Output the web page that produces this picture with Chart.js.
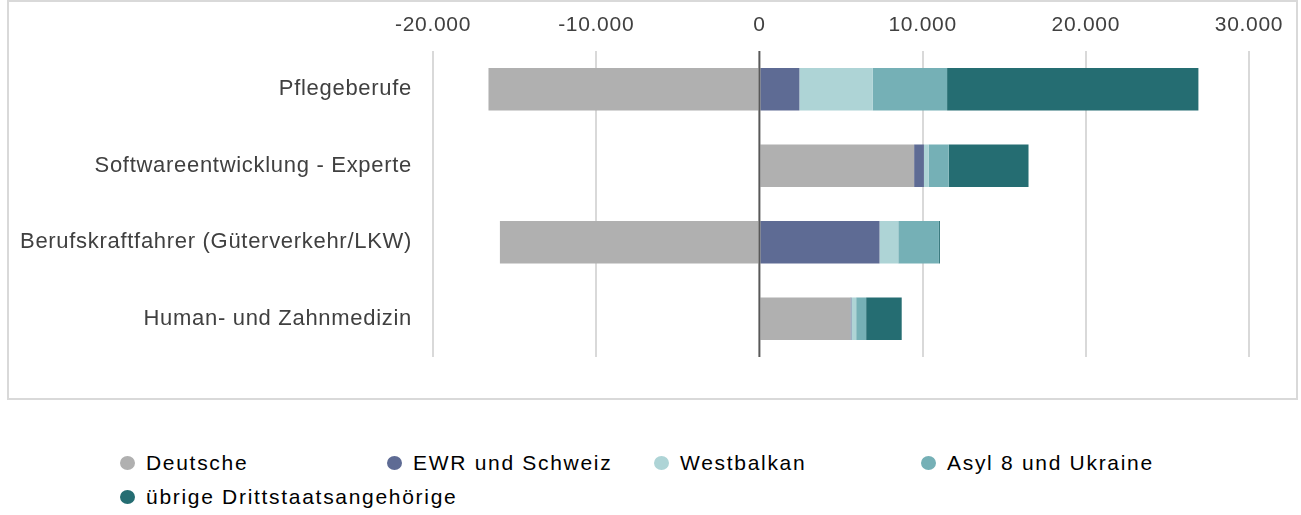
<!DOCTYPE html>
<html>
<head>
<meta charset="utf-8">
<script src="https://cdn.jsdelivr.net/npm/chart.js@4/dist/chart.umd.min.js"></script>
<style>
  body { margin: 0; background: #fff; width: 1301px; height: 515px; overflow: hidden; position: relative;
         font-family: "Liberation Sans", Arial, sans-serif; }
  .frame { position: absolute; left: 7px; top: 0; width: 1291px; height: 400px; box-sizing: border-box;
           border: 2px solid #d9d9d9; }
  .frame canvas { position: absolute; left: 0; top: 0; }
  .legend-item { position: absolute; font-size: 21px; letter-spacing: 1.7px; color: #000; white-space: nowrap;
                 line-height: 24px; }
  .legend-dot { position: absolute; width: 15px; height: 14px; border-radius: 50%; left: -26px; top: 5px; }
</style>
</head>
<body>
<div class="frame"><canvas id="chart" width="1287" height="396"></canvas></div>
<div id="legend"></div>
<script>
const categories = ['Pflegeberufe', 'Softwareentwicklung - Experte', 'Berufskraftfahrer (Güterverkehr/LKW)', 'Human- und Zahnmedizin'];
const seriesLabels = ['Deutsche', 'EWR und Schweiz', 'Westbalkan', 'Asyl 8 und Ukraine', 'übrige Drittstaatsangehörige'];
const seriesColors = ['#b0b0b0', '#5e6b94', '#aed4d6', '#75b0b6', '#256d72'];

const deutsche   = [-16600, 9480, -15900, 5580];
const ewr        = [2450, 600, 7360, 60];
const westbalkan = [4500, 290, 1150, 290];
const asyl       = [4550, 1230, 2490, 610];
const uebrige    = [15400, 4890, 60, 2180];
const seriesValues = [deutsche, ewr, westbalkan, asyl, uebrige];

const xTickMin = -20000, xTickMax = 30000, xTickStep = 10000;

const fmtDe = v => (v < 0 ? '-' : '') + String(Math.abs(v)).replace(/\B(?=(\d{3})+(?!\d))/g, '.');

const zeroLine = {
  id: 'zeroLine',
  beforeDraw(chart) { chart.ctx.letterSpacing = '0.7px'; },
  afterDatasetsDraw(chart) {
    const {ctx, chartArea, scales} = chart;
    const x = scales.x.getPixelForValue(0);
    ctx.save();
    ctx.strokeStyle = '#595959';
    ctx.lineWidth = 2;
    ctx.beginPath();
    ctx.moveTo(x, chartArea.top);
    ctx.lineTo(x, chartArea.bottom);
    ctx.stroke();
    ctx.restore();
  }
};

new Chart(document.getElementById('chart'), {
  type: 'bar',
  data: {
    labels: categories,
    datasets: seriesLabels.map((label, k) => ({
      label,
      data: seriesValues[k],
      backgroundColor: seriesColors[k],
      borderWidth: 0,
      barPercentage: 0.556,
      categoryPercentage: 1,
    })),
  },
  options: {
    indexAxis: 'y',
    responsive: false,
    animation: false,
    layout: { padding: { top: 0, right: 47, bottom: 41, left: 0 } },
    plugins: { legend: { display: false }, tooltip: { enabled: false } },
    scales: {
      x: {
        position: 'top',
        stacked: true,
        min: xTickMin, max: xTickMax,
        afterFit: s => { s.height = 49; },
        border: { display: false },
        grid: {
          color: c => c.tick && c.tick.value === 0 ? 'rgba(0,0,0,0)' : '#d9d9d9',
          lineWidth: 2,
          drawTicks: false,
          tickLength: 0,
        },
        ticks: {
          stepSize: xTickStep,
          padding: 13,
          color: '#404040',
          font: { family: '"Liberation Sans", Arial, sans-serif', size: 21 },
          callback: v => fmtDe(v),
        },
      },
      y: {
        stacked: true,
        afterFit: s => { s.width = 424; },
        border: { display: false },
        grid: { display: false, drawTicks: false, tickLength: 0 },
        ticks: {
          padding: 21,
          color: '#404040',
          font: { family: '"Liberation Sans", Arial, sans-serif', size: 22 },
        },
      },
    },
  },
  plugins: [zeroLine],
});

// legend below the frame, four columns
const legend = document.getElementById('legend');
seriesLabels.forEach((label, k) => {
  const item = document.createElement('div');
  item.className = 'legend-item';
  item.style.left = (146 + (k % 4) * 267) + 'px';
  item.style.top = (451 + Math.floor(k / 4) * 34) + 'px';
  const dot = document.createElement('span');
  dot.className = 'legend-dot';
  dot.style.background = seriesColors[k];
  item.appendChild(dot);
  item.appendChild(document.createTextNode(label));
  legend.appendChild(item);
});
</script>
</body>
</html>
